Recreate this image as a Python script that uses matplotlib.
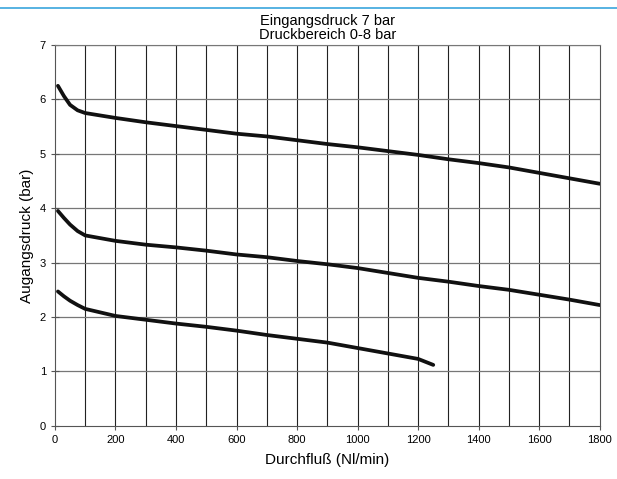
import matplotlib
matplotlib.use('Agg')
from matplotlib import pyplot as plt
from matplotlib.lines import Line2D

# Durchfluss (Nl/min) vs Ausgangsdruck (bar)
x_top = [10, 30, 50, 75, 100, 200, 300, 400, 500, 600, 700, 800, 900, 1000,
         1100, 1200, 1300, 1400, 1500, 1600, 1700, 1800]
y_top = [6.25, 6.06, 5.9, 5.8, 5.75, 5.66, 5.58, 5.51, 5.44, 5.37, 5.32, 5.25,
         5.18, 5.12, 5.05, 4.98, 4.9, 4.83, 4.75, 4.65, 4.55, 4.45]

x_mid = [10, 30, 50, 75, 100, 200, 300, 400, 500, 600, 700, 800, 900, 1000,
         1100, 1200, 1300, 1400, 1500, 1600, 1700, 1800]
y_mid = [3.95, 3.82, 3.7, 3.58, 3.5, 3.4, 3.33, 3.28, 3.22, 3.15, 3.1, 3.03,
         2.97, 2.9, 2.81, 2.72, 2.65, 2.57, 2.5, 2.41, 2.32, 2.22]

x_low = [10, 30, 50, 75, 100, 200, 300, 400, 500, 600, 700, 800, 900, 1000,
         1100, 1200, 1250]
y_low = [2.47, 2.38, 2.3, 2.22, 2.15, 2.02, 1.95, 1.88, 1.82, 1.75, 1.67,
         1.6, 1.53, 1.43, 1.33, 1.23, 1.12]

x_ticks = list(range(0, 1801, 200))
y_ticks = list(range(0, 8))

plt.rcParams['font.family'] = ['Liberation Sans', 'DejaVu Sans']

fig = plt.figure(figsize=(6.17, 4.79), dpi=100)
ax = fig.add_axes([0.089, 0.111, 0.883, 0.795])

# vertikale Linien alle 100, horizontale je bar
for xv in range(100, 1800, 100):
    ax.axvline(xv, color='#222222', lw=0.8, zorder=1)
for yv in range(1, 8):
    ax.axhline(yv, color='#777777', lw=0.9, zorder=1)

for xs, ys in [(x_top, y_top), (x_mid, y_mid), (x_low, y_low)]:
    ax.plot(xs, ys, color='#111111', lw=2.7, solid_capstyle='round',
            solid_joinstyle='round', zorder=3)

ax.set_xlim(0, 1800)
ax.set_ylim(0, 7)
ax.set_xticks(x_ticks)
ax.set_yticks(y_ticks)
ax.tick_params(axis='both', labelsize=8, length=3, width=0.8, color='#555555')
ax.tick_params(axis='y', direction='inout', length=6)
ax.spines['top'].set_color('#777777')
ax.spines['left'].set_color('#555555')
ax.spines['bottom'].set_color('#555555')
ax.spines['right'].set_color('#555555')

ax.set_xlabel('Durchfluß (Nl/min)', fontsize=11, labelpad=6)
ax.set_ylabel('Augangsdruck (bar)', fontsize=11, labelpad=4)
ax.set_title('Eingangsdruck 7 bar\nDruckbereich 0-8 bar', fontsize=10.5,
             linespacing=1.0, pad=4)

# blaue Linie oben
fig.add_artist(Line2D([0, 1], [0.983, 0.983], color='#3aa6dd', lw=1.2,
                      transform=fig.transFigure))

fig.savefig('out.png', dpi=100)
